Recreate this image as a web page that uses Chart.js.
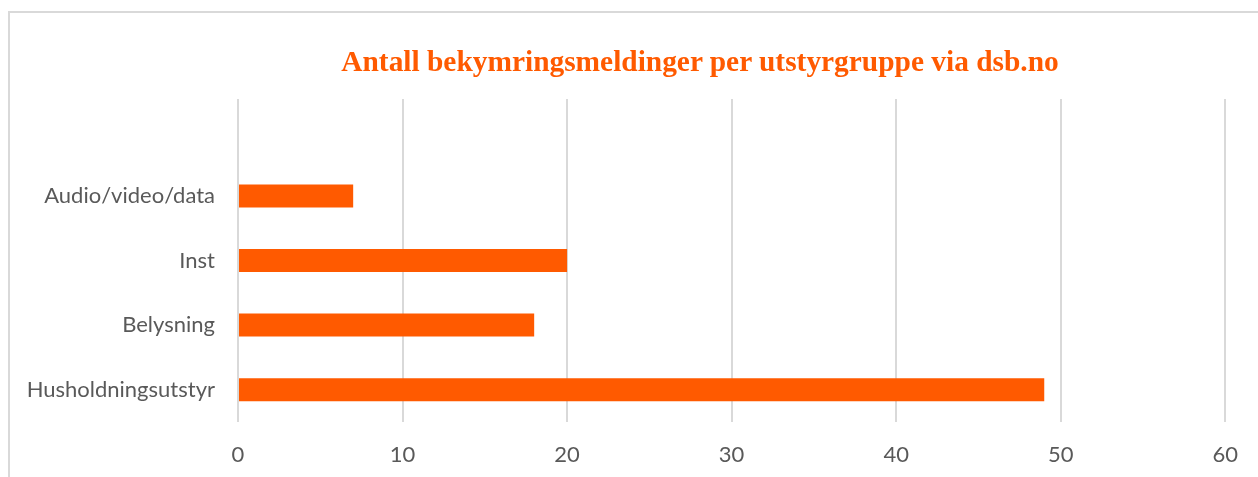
<!DOCTYPE html>
<html>
<head>
<meta charset="utf-8">
<script src="https://cdn.jsdelivr.net/npm/chart.js@4/dist/chart.umd.min.js"></script>
<style>
html,body{margin:0;padding:0;background:#fff;}
#wrap{position:relative;width:1258px;height:477px;overflow:hidden;}
#frame{position:absolute;left:8px;top:11px;width:1300px;height:600px;border-left:2px solid #d9d9d9;border-top:2px solid #d9d9d9;box-sizing:border-box;}
canvas{position:absolute;left:0;top:0;}
#title{position:absolute;left:0;width:1400px;top:45px;text-align:center;font-family:"Liberation Serif","Times New Roman",serif;font-weight:bold;font-size:29.4px;line-height:33px;color:#FF5A00;white-space:nowrap;}
</style>
</head>
<body>
<div id="wrap">
<div id="frame"></div>
<canvas id="c" width="1258" height="477"></canvas>
<div id="title"></div>
</div>
<script>
const titleText = 'Antall bekymringsmeldinger per utstyrgruppe via dsb.no';
const categories = ['', 'Audio/video/data', 'Inst', 'Belysning', 'Husholdningsutstyr'];
const values = [null, 7, 20, 18, 49];
const xTicks = [0, 10, 20, 30, 40, 50, 60];

const orange = '#FF5A00';
const grey = '#595959';

document.getElementById('title').textContent = titleText;

new Chart(document.getElementById('c'), {
  type: 'bar',
  data: {
    labels: categories,
    datasets: [{
      data: values,
      backgroundColor: orange,
      borderWidth: 0,
      barPercentage: 0.356,
      categoryPercentage: 1.0
    }]
  },
  options: {
    indexAxis: 'y',
    responsive: false,
    animation: false,
    layout: { padding: { left: 0, right: 24, top: 99, bottom: 0 } },
    plugins: {
      legend: { display: false },
      tooltip: { enabled: false },
      title: { display: false }
    },
    scales: {
      x: {
        min: xTicks[0],
        max: xTicks[xTicks.length - 1],
        afterBuildTicks: (s) => { s.ticks = xTicks.map(v => ({ value: v })); },
        afterFit: (s) => { s.height = 55; },
        grid: { color: '#d9d9d9', lineWidth: 2, drawTicks: false },
        border: { display: false },
        ticks: { color: grey, padding: 20, font: { family: 'Lato, "Open Sans", sans-serif', size: 22 } }
      },
      y: {
        afterFit: (s) => { s.width = 238; },
        grid: { display: false, drawTicks: false },
        border: { display: false },
        ticks: { color: grey, padding: 23, font: { family: 'Lato, "Open Sans", sans-serif', size: 22 } }
      }
    }
  }
});
</script>
</body>
</html>
